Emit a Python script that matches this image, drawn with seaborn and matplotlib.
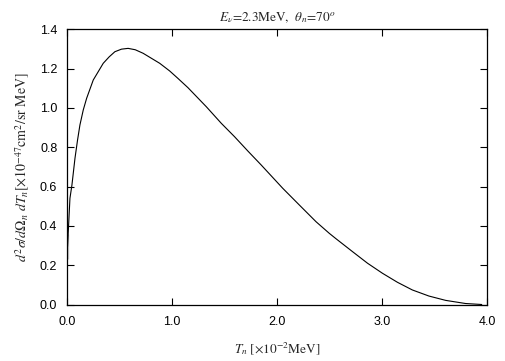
import matplotlib
matplotlib.use("Agg")
import matplotlib.pyplot as plt
import seaborn as sns
import pandas as pd

T_n = [0.005, 0.005, 0.028, 0.047, 0.076, 0.1, 0.123, 0.155, 0.187, 0.25, 0.297, 0.345,
       0.402, 0.456, 0.519, 0.582, 0.65,
       0.725, 0.883, 0.978, 1.057, 1.152, 1.327, 1.469, 1.595, 1.722, 1.849, 2.055,
       2.213, 2.372, 2.498, 2.561, 2.719, 2.862, 3.004, 3.147, 3.289, 3.447, 3.606,
       3.796, 3.95]
cross_section = [0.23, 0.36, 0.54, 0.608, 0.744, 0.835, 0.913, 0.99, 1.049, 1.142, 1.184, 1.227,
                 1.26, 1.286, 1.299, 1.303, 1.296,
                 1.278, 1.227, 1.188, 1.15, 1.103, 1.006, 0.922, 0.854, 0.781, 0.71, 0.591,
                 0.506, 0.421, 0.362, 0.335, 0.269, 0.21, 0.159, 0.113, 0.074, 0.043, 0.021,
                 0.005, 0.0]
x_ticks = [0.0, 1.0, 2.0, 3.0, 4.0]
y_ticks = [0.0, 0.2, 0.4, 0.6, 0.8, 1.0, 1.2, 1.4]

sns.set_theme(style="ticks")
plt.rcParams['font.family'] = ['Liberation Sans', 'DejaVu Sans']
plt.rcParams['mathtext.fontset'] = 'stix'

df = pd.DataFrame({"T": T_n, "xs": cross_section})

fig = plt.figure(figsize=(5.05, 3.61), dpi=100)
ax = fig.add_axes([67/505, 1 - 304.5/361, (487 - 67)/505, (304.5 - 29.3)/361])
sns.lineplot(data=df, x="T", y="xs", ax=ax, color="black", linewidth=0.8, sort=False)

ax.set_xlim(0, 4.0)
ax.set_ylim(0, 1.4)
ax.set_xticks(x_ticks)
ax.set_xticklabels([f"{v:.1f}" for v in x_ticks])
ax.set_yticks(y_ticks)
ax.set_yticklabels([f"{v:.1f}" for v in y_ticks])
ax.tick_params(direction="in", length=5, width=0.8, top=True, right=True,
               labelsize=9, colors="black")
ax.tick_params(axis="x", pad=8)
ax.tick_params(axis="y", pad=7)
for s in ax.spines.values():
    s.set_linewidth(0.9)
    s.set_color("black")

serif = ['STIXGeneral', 'DejaVu Serif']
ax.set_title(r"$E_\nu$=2.3MeV,  $\theta_n$=70$^o$", fontsize=9.5, family=serif, pad=6)
ax.set_xlabel(r"$T_n$ [$\times$10$^{-2}$MeV]", fontsize=9.5, family=serif, labelpad=9)
ax.set_ylabel(r"$d^2\sigma/d\Omega_n\ dT_n$[$\times$10$^{-47}$cm$^2$/sr MeV]",
              fontsize=10, family=serif, labelpad=6)

fig.savefig("out.png", dpi=100)
